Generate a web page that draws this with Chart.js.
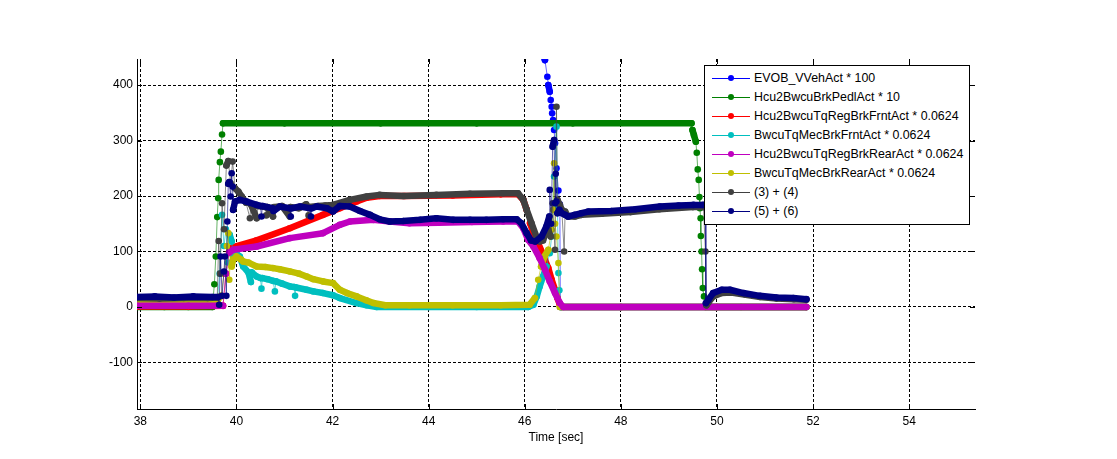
<!DOCTYPE html>
<html lang="en">
<head>
<meta charset="UTF-8">
<title>Brake torque blending</title>
<script src="https://cdn.jsdelivr.net/npm/chart.js"></script>
<style>
    body { margin: 0; background: #fff; overflow: hidden; }
    #wrap { position: relative; width: 1117px; height: 459px; }
    #legend {
        position: absolute; left: 704px; top: 65px; width: 264px; height: 158px;
        border: 1px solid #000; background: #fff;
        font-family: "Liberation Sans", Arial, sans-serif; font-size: 12.4px; color: #000;
    }
    .row { position: absolute; left: 0; width: 100%; height: 19px; line-height: 19px; white-space: nowrap; }
    .row .line { position: absolute; left: 7px; top: 9px; width: 38px; height: 1px; }
    .row .dot { position: absolute; left: 23px; top: 6px; width: 6px; height: 6px; border-radius: 50%; }
    .row .txt { position: absolute; left: 49px; top: 0; }
</style>
</head>
<body>

<div id="wrap">
    <canvas id="chart" width="1117" height="459"></canvas>
    <div id="legend"></div>
</div>

<script>
    // axis ticks
    const xTicks = [38, 40, 42, 44, 46, 48, 50, 52, 54];
    const yTicks = [-100, 0, 100, 200, 300, 400];

    const seriesNames = [
        'EVOB_VVehAct * 100',
        'Hcu2BwcuBrkPedlAct * 10',
        'Hcu2BwcuTqRegBrkFrntAct * 0.0624',
        'BwcuTqMecBrkFrntAct * 0.0624',
        'Hcu2BwcuTqRegBrkRearAct * 0.0624',
        'BwcuTqMecBrkRearAct * 0.0624',
        '(3) + (4)',
        '(5) + (6)'
    ];
    const seriesColors = ['#0000ff', '#008000', '#ff0000', '#00bfbf', '#bf00bf', '#bfbf00', '#404040', '#000080'];
    // draw order (0 = on top)
    const drawOrder = [7, 6, 5, 4, 2, 3, 1, 0];

    // [time, value]
    const vehSpeed = [[37.93,1400],[40,1200],[42,1000],[44,800],[45.5,620],[46.2,500],[46.42,445],[46.47,415],[46.49,400],
        [46.52,388],[46.54,373],[46.56,361],[46.57,349],[46.59,337],[46.61,319],[46.63,295],[46.66,250],[46.7,210],
        [46.73,185],[46.74,0],[48,0],[50,0],[51.86,0]];

    const pedal = [[37.93,0],[38.5,0],[39,0],[39.5,0],[39.54,41],[39.57,91],[39.6,162],[39.62,196],[39.63,229],
        [39.655,261],[39.675,280],[39.7,311],[39.72,331],[41,331],[43,331],[45,331],[47,331],[49.47,331],[49.49,319],
        [49.52,310],[49.56,298],[49.58,278],[49.6,248],[49.62,229],[49.635,198],[49.645,178],[49.66,160],[49.665,128],
        [49.68,100],[49.69,68],[49.705,34],[49.73,19],[49.76,0],[50.5,0],[51.86,0]];

    const regFront = [[37.93,1],[39,1],[39.72,2],[39.78,60],[39.85,100],[39.93,108],[40.42,120],[41.11,142],[41.8,166],
        [42.15,178],[42.5,190],[42.71,197],[42.98,200],[43.5,200],[44.5,201],[45.5,203],[45.86,203],[45.97,193],
        [46.04,175],[46.11,151],[46.18,133],[46.28,115],[46.38,94],[46.49,70],[46.56,49],[46.63,31],[46.68,16],
        [46.73,4],[46.76,0],[48,0],[50,0],[51.86,0]];

    const mecFront = [[37.93,9],[39,9],[39.6,9],[39.65,60],[39.7,166],[39.74,110],[39.78,140],[39.82,80],[39.86,130],
        [39.9,118],[39.93,91],[40,96],[40.07,91],[40.14,73],[40.25,62],[40.3,45],[40.32,62],[40.42,55],[40.5,52],
        [40.52,33],[40.54,52],[40.65,50],[40.76,47],[40.8,28],[40.82,46],[40.95,42],[41.11,37],[41.2,36],[41.22,20],
        [41.24,35],[41.46,31],[41.6,28],[41.8,25],[42.01,21],[42.15,16],[42.5,7],[42.71,3],[42.92,0],[44,0],[45,0],
        [46.07,0],[46.18,4],[46.25,19],[46.31,37],[46.38,55],[46.45,73],[46.52,97],[46.56,127],[46.61,235],[46.66,325],
        [46.68,180],[46.7,61],[46.72,30],[46.75,0],[48,0],[50,0],[51.86,0]];

    const regRear = [[37.93,2],[39,2],[39.72,2],[39.78,60],[39.85,98],[39.93,103],[40.42,109],[41.11,124],[41.8,133],
        [42.15,148],[42.36,154],[42.85,157],[43.19,154],[43.6,151],[44.2,152],[44.9,153],[45.55,154],[45.86,154],
        [45.97,142],[46.07,121],[46.18,109],[46.31,88],[46.42,67],[46.52,46],[46.63,25],[46.73,7],[46.8,0],[48,0],
        [50,0],[51.86,0]];

    const mecRear = [[37.93,11],[39,11],[39.6,11],[39.68,20],[39.74,60],[39.8,110],[39.83,133],[39.85,49],[39.88,100],
        [39.9,73],[39.93,85],[40,91],[40.1,85],[40.14,82],[40.25,80],[40.42,73],[40.6,72],[40.76,70],[40.9,68],
        [41.11,64],[41.3,60],[41.46,55],[41.6,50],[41.8,46],[42.01,43],[42.15,31],[42.3,25],[42.5,19],[42.7,12],
        [42.85,7],[43.1,3],[43.6,3],[44.5,3],[45.5,3],[46.1,4],[46.21,16],[46.28,49],[46.34,73],[46.41,91],[46.49,103],
        [46.56,139],[46.59,175],[46.61,259],[46.63,150],[46.66,127],[46.7,79],[46.73,0],[48,0],[50,0],[51.86,0]];

    const sumFront = [[37.93,16],[38.4,15],[38.9,16],[39.4,16],[39.6,17],[39.63,119],[39.66,60],[39.7,187],[39.74,140],
        [39.79,255],[39.83,263],[39.88,223],[39.92,262],[39.97,214],[40.04,208],[40.11,199],[40.2,188],[40.28,160],
        [40.3,185],[40.42,160],[40.45,182],[40.6,180],[40.62,165],[40.64,180],[40.76,163],[40.78,180],[40.95,182],
        [41.11,163],[41.13,180],[41.3,178],[41.45,185],[41.5,165],[41.52,180],[41.7,182],[41.85,183],[42.01,184],
        [42.36,193],[42.71,199],[42.98,202],[43.47,200],[44.16,202],[44.86,204],[45.55,205],[45.86,205],[45.97,193],
        [46.04,175],[46.14,151],[46.25,125],[46.31,118],[46.38,120],[46.45,136],[46.49,139],[46.54,127],[46.58,187],
        [46.63,103],[46.66,361],[46.68,193],[46.73,184],[46.77,175],[46.82,100],[46.84,172],[46.9,163],[47.04,163],
        [47.18,166],[47.6,168],[48.2,171],[48.8,176],[49.5,180],[49.72,180],[49.76,100],[49.78,3],[49.82,8],[49.92,19],
        [50.1,25],[50.3,26],[50.6,22],[50.9,18],[51.24,15],[51.6,14],[51.86,13]];

    const sumRear = [[37.93,18],[38.3,19],[38.7,17],[39.1,19],[39.5,18],[39.62,18],[39.64,4],[39.67,91],[39.7,20],
        [39.74,64],[39.76,91],[39.79,20],[39.81,154],[39.83,222],[39.85,225],[39.88,199],[39.9,241],[39.92,217],
        [39.93,175],[39.97,190],[40.07,193],[40.21,190],[40.42,184],[40.5,182],[40.52,163],[40.54,182],[40.75,178],
        [40.77,173],[40.9,181],[41.11,178],[41.13,163],[41.15,178],[41.32,181],[41.53,178],[41.55,163],[41.57,178],
        [41.67,181],[41.88,178],[42.01,172],[42.15,182],[42.36,181],[42.57,173],[42.78,166],[42.98,158],[43.19,154],
        [43.47,155],[43.82,157],[44.16,160],[44.51,157],[44.86,157],[45.2,157],[45.55,158],[45.83,158],[45.93,151],
        [46.04,133],[46.13,120],[46.22,118],[46.35,127],[46.45,145],[46.51,163],[46.52,211],[46.55,150],[46.58,289],
        [46.61,301],[46.63,187],[46.645,240],[46.66,190],[46.68,169],[46.72,175],[46.77,169],[46.84,166],[46.9,163],
        [47.04,166],[47.18,169],[47.32,172],[47.8,173],[48.3,176],[48.81,181],[49.2,183],[49.51,184],[49.71,184],
        [49.76,184],[49.77,7],[49.82,13],[49.92,25],[50.1,31],[50.27,31],[50.55,25],[50.89,20],[51.24,17],[51.59,16],
        [51.86,14]];

    const seriesData = [vehSpeed, pedal, regFront, mecFront, regRear, mecRear, sumFront, sumRear];

    // dense marker bands look thick, steep jumps show the thin line between samples
    function isSteep(ctx) {
        const dx = Math.abs(ctx.p1.x - ctx.p0.x);
        const dy = Math.abs(ctx.p1.y - ctx.p0.y);
        return dy > 3 * dx + 3;
    }

    const datasets = seriesData.map((pts, i) => ({
        label: seriesNames[i],
        data: pts.map(p => ({x: p[0], y: p[1]})),
        borderColor: seriesColors[i],
        backgroundColor: seriesColors[i],
        borderWidth: 1,
        pointRadius: 3.3,
        pointBorderWidth: 0,
        pointHoverRadius: 3.3,
        borderJoinStyle: 'round',
        borderCapStyle: 'round',
        tension: 0,
        order: drawOrder[i],
        segment: {
            borderWidth: ctx => isSteep(ctx) ? 1 : 6.5,
            borderColor: ctx => isSteep(ctx) ? seriesColors[i] + '99' : seriesColors[i]
        }
    }));

    const innerTicks = {
        id: 'innerTicks',
        afterDraw(chart) {
            const {ctx, chartArea: a, scales: {x, y}} = chart;
            ctx.save();
            ctx.strokeStyle = '#000';
            ctx.lineWidth = 1;
            ctx.beginPath();
            x.ticks.forEach(t => {
                const px = Math.round(x.getPixelForValue(t.value)) + 0.5;
                ctx.moveTo(px, a.bottom); ctx.lineTo(px, a.bottom - 5);
                ctx.moveTo(px, a.top); ctx.lineTo(px, a.top + 5);
            });
            y.ticks.forEach(t => {
                const py = Math.round(y.getPixelForValue(t.value)) + 0.5;
                ctx.moveTo(a.left, py); ctx.lineTo(a.left + 5, py);
                ctx.moveTo(a.right, py); ctx.lineTo(a.right - 5, py);
            });
            ctx.stroke();
            ctx.restore();
        }
    };

    const font = { family: '"Liberation Sans", Arial, sans-serif', size: 12 };

    new Chart(document.getElementById('chart').getContext('2d'), {
        type: 'line',
        data: { datasets: datasets },
        options: {
            responsive: false,
            animation: false,
            events: [],
            layout: { padding: { left: 0, top: 59, right: 142, bottom: 0 } },
            plugins: { legend: { display: false }, tooltip: { enabled: false } },
            scales: {
                x: {
                    type: 'linear',
                    min: 37.93,
                    max: 55.37,
                    afterBuildTicks: s => { s.ticks = xTicks.map(v => ({value: v})); },
                    afterFit: s => { s.height = 50; },
                    ticks: { color: '#000', font: font, padding: 5, maxRotation: 0, autoSkip: false },
                    grid: { color: '#000', lineWidth: 1, drawTicks: false },
                    border: { display: true, color: '#000', width: 1, dash: [3, 2] },
                    title: { display: true, text: 'Time [sec]', color: '#000', font: font, padding: { top: 0, bottom: 14 } }
                },
                y: {
                    type: 'linear',
                    min: -184,
                    max: 447,
                    afterBuildTicks: s => { s.ticks = yTicks.map(v => ({value: v})); },
                    afterFit: s => { s.width = 137; },
                    ticks: { color: '#000', font: font, padding: 4 },
                    grid: { color: '#000', lineWidth: 1, drawTicks: false },
                    border: { display: true, color: '#000', width: 1, dash: [3, 2] }
                }
            }
        },
        plugins: [innerTicks]
    });

    // legend box drawn over the plot, top right
    const legend = document.getElementById('legend');
    seriesNames.forEach((name, i) => {
        const row = document.createElement('div');
        row.className = 'row';
        row.style.top = (2.5 + i * 19.1) + 'px';
        row.innerHTML = '<span class="line" style="background:' + seriesColors[i] + '"></span>' +
            '<span class="dot" style="background:' + seriesColors[i] + '"></span>' +
            '<span class="txt"></span>';
        row.querySelector('.txt').textContent = name;
        legend.appendChild(row);
    });
</script>

</body>
</html>
